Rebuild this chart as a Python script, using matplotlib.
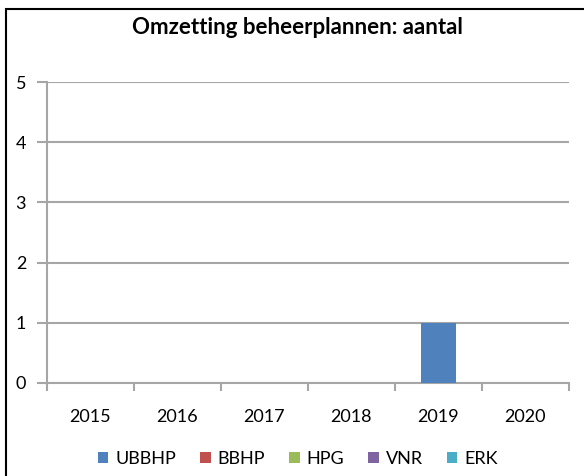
import matplotlib
matplotlib.use('Agg')
import matplotlib.pyplot as plt
import numpy as np
from matplotlib.patches import Rectangle

years = ['2015', '2016', '2017', '2018', '2019', '2020']
series = ['UBBHP', 'BBHP', 'HPG', 'VNR', 'ERK']
ubbhp = [0, 0, 0, 0, 1, 0]
bbhp = [0, 0, 0, 0, 0, 0]
hpg = [0, 0, 0, 0, 0, 0]
vnr = [0, 0, 0, 0, 0, 0]
erk = [0, 0, 0, 0, 0, 0]
colors = ['#4F81BD', '#C0504D', '#9BBB59', '#8064A2', '#4BACC6']

plt.rcParams['font.family'] = ['Lato', 'DejaVu Sans']

fig = plt.figure(figsize=(5.84, 4.76), dpi=100)
ax = fig.add_axes([0.0805, 0.1954, 0.8935, 0.6323])

# figure border (cut off at right and bottom like the original)
fig.patches.append(Rectangle((6 / 584, -0.01), 1.0, 1 - 9 / 476 + 0.01,
                             transform=fig.transFigure, fill=False,
                             edgecolor='black', linewidth=1.5))

x = np.arange(len(years))
bottom = np.zeros(len(years))
for name, vals, c in zip(series, [ubbhp, bbhp, hpg, vnr, erk], colors):
    ax.bar(x, vals, width=0.4, bottom=bottom, color=c, label=name, zorder=3)
    bottom += np.array(vals)

ax.set_xlim(-0.5, len(years) - 0.5)
ax.set_ylim(0, 5)
ax.set_yticks(range(6))
ax.yaxis.grid(True, color='#A6A6A6', linewidth=1.5, zorder=0)
ax.set_axisbelow(True)

for s in ['top', 'right']:
    ax.spines[s].set_visible(False)
for s in ['left', 'bottom']:
    ax.spines[s].set_color('#A6A6A6')
    ax.spines[s].set_linewidth(1.5)

ax.set_xticks(x)
ax.set_xticklabels(years)
ax.set_xticks(np.arange(-0.5, len(years)), minor=True)
ax.tick_params(axis='x', which='major', length=0, pad=19, labelsize=13)
ax.tick_params(axis='x', which='minor', length=6, width=1.5, color='#A6A6A6')
ax.tick_params(axis='y', length=7, width=1.5, color='#A6A6A6', pad=8, labelsize=13)

fig.suptitle('Omzetting beheerplannen: aantal', fontweight='bold', fontsize=16,
             x=0.51, y=1 - 27 / 476, va='center')

fig.legend(loc='center', bbox_to_anchor=(0.51, 0.036), ncol=5, frameon=False,
           fontsize=13, handlelength=0.6, handleheight=0.6, handletextpad=0.4,
           columnspacing=1.3)

fig.savefig('out.png', dpi=100)
